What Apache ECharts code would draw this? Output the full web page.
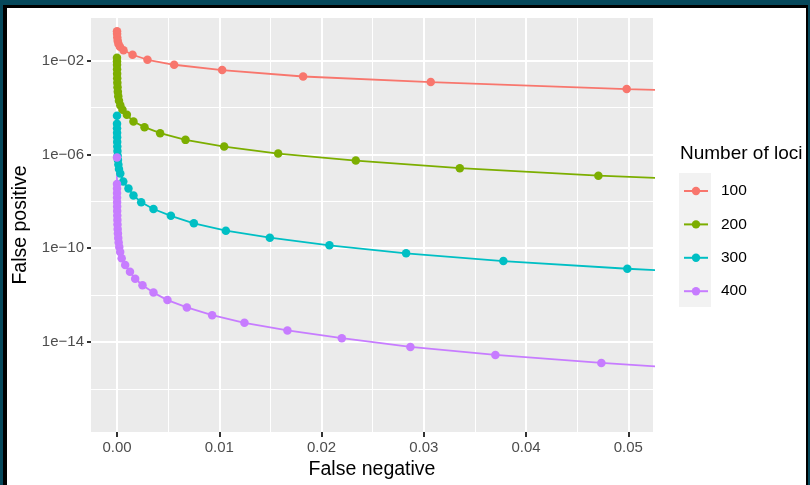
<!DOCTYPE html>
<html><head><meta charset="utf-8">
<script src="https://cdn.jsdelivr.net/npm/echarts@6/dist/echarts.min.js"></script>
<style>html,body{margin:0;padding:0;background:#fff}#c{width:810px;height:485px}</style>
</head><body><div id="c"></div>
<script>
const seriesNames = ['100', '200', '300', '400'];
const seriesColors = ['#F8766D', '#7CAE00', '#00BFC4', '#C77CFF'];

const fn100 = [0.000005, 0.00001, 0.00003, 0.00007, 0.00014, 0.00029, 0.00064, 0.00152, 0.00298, 0.00559, 0.01028, 0.0182, 0.03068, 0.04984, 0.0798];
const fp100 = [0.1823, 0.1425, 0.101, 0.0716, 0.0533, 0.0397, 0.0281, 0.01805, 0.01103, 0.00675, 0.004, 0.002133, 0.001229, 0.000617, 0.000304];

const fn200 = [0.000001, 0.000003, 0.000005, 0.000008, 0.000014, 0.000022, 0.000034, 0.000054, 0.000083, 0.000127, 0.000196, 0.000323, 0.000538, 0.000968, 0.00161, 0.00269, 0.00422, 0.0067, 0.01048, 0.01576, 0.02335, 0.03352, 0.04707, 0.0659];
const fp200 = [1.343e-2, 9.52e-3, 6.75e-3, 4.33e-3, 2.78e-3, 1.787e-3, 1.148e-3, 7.37e-4, 4.73e-4, 3.04e-4, 1.953e-4, 1.254e-4, 8.05e-5, 4.92e-5, 2.547e-5, 1.468e-5, 8.13e-6, 4.21e-6, 2.176e-6, 1.093e-6, 5.49e-7, 2.597e-7, 1.254e-7, 6.11e-8];

const fn300 = [0.000002, 0.000004, 0.000006, 0.00001, 0.000015, 0.000022, 0.000031, 0.000044, 0.000064, 0.000093, 0.000137, 0.000196, 0.000323, 0.000616, 0.001124, 0.001613, 0.002366, 0.003568, 0.005269, 0.007517, 0.010645, 0.014946, 0.020772, 0.02827, 0.03778, 0.0499, 0.0645];
const fp300 = [4.46e-5, 2.03e-5, 1.304e-5, 8.38e-6, 5.38e-6, 3.455e-6, 2.219e-6, 1.425e-6, 9.15e-7, 5.88e-7, 3.775e-7, 2.424e-7, 1.557e-7, 7.09e-8, 3.558e-8, 1.787e-8, 9.24e-9, 4.73e-9, 2.424e-9, 1.159e-9, 5.6e-10, 2.81e-10, 1.33e-10, 6.05e-11, 2.838e-11, 1.33e-11, 6.17e-12];

const fn400 = [0.000001, 0.000002, 0.000004, 0.000006, 0.000009, 0.000012, 0.000016, 0.000022, 0.000029, 0.000039, 0.000051, 0.000068, 0.000093, 0.000122, 0.000166, 0.000225, 0.000313, 0.000459, 0.000802, 0.001271, 0.001779, 0.002493, 0.003568, 0.004936, 0.006833, 0.009306, 0.012463, 0.016667, 0.021984, 0.02869, 0.037, 0.04736, 0.05914];
const fp400 = [7.37e-7, 5.54e-8, 3.558e-8, 2.286e-8, 1.468e-8, 9.43e-9, 6.05e-9, 3.889e-9, 2.497e-9, 1.604e-9, 1.03e-9, 6.61e-10, 4.25e-10, 2.729e-10, 1.752e-10, 1.125e-10, 6.88e-11, 3.7e-11, 1.915e-11, 9.9e-12, 4.97e-12, 2.623e-12, 1.279e-12, 6.11e-13, 2.982e-13, 1.397e-13, 6.55e-14, 3.1e-14, 1.453e-14, 6.17e-15, 2.81e-15, 1.279e-15, 5.93e-16];

const xTicks = [0, 0.01, 0.02, 0.03, 0.04, 0.05];
const xMinorTicks = [0.005, 0.015, 0.025, 0.035, 0.045];
const yTicks = [1e-2, 1e-6, 1e-10, 1e-14];
const yMinorTicks = [1e-4, 1e-8, 1e-12, 1e-16];

const xMin = -0.00254, xMax = 0.05241;
const yMin = 1.44e-18, yMax = 0.668;

const FONT = "'Liberation Sans', Arial, sans-serif";
const allFn = [fn100, fn200, fn300, fn400];
const allFp = [fp100, fp200, fp300, fp400];

function fmtExp(v) {
  const e = Math.round(Math.log10(v));
  return '1e' + (e < 0 ? '\u2212' : '+') + String(Math.abs(e)).padStart(2, '0');
}

const chart = echarts.init(document.getElementById('c'), null, {renderer: 'canvas'});
const option = {
  animation: false,
  backgroundColor: '#ffffff',
  title: {
    text: 'Number of loci', left: 680, top: 144, padding: 0,
    textStyle: {fontSize: 19, fontWeight: 'normal', color: '#000', fontFamily: FONT}
  },
  legend: {
    orient: 'vertical', left: 683, top: 181, padding: 0,
    itemWidth: 24, itemHeight: 10.5, itemGap: 13.4,
    data: seriesNames,
    textStyle: {fontSize: 15.5, color: '#000', fontFamily: FONT, lineHeight: 20, padding: [0, 0, 0, 8]}
  },
  grid: {left: 91, right: 157, top: 18, bottom: 53, show: true, backgroundColor: '#ebebeb', borderWidth: 0},
  xAxis: [{
    type: 'value', min: xMin, max: xMax, position: 'bottom',
    axisLine: {show: false, onZero: false},
    axisTick: {show: true, length: 5, lineStyle: {color: '#333333', width: 2}, customValues: xTicks},
    axisLabel: {customValues: xTicks, formatter: v => v.toFixed(2), color: '#4d4d4d', fontSize: 15, margin: 8, fontFamily: FONT},
    splitLine: {show: true, lineStyle: {color: '#ffffff', width: 2}},
    name: 'False negative', nameLocation: 'middle', nameGap: 27,
    nameTextStyle: {fontSize: 19.5, color: '#000', fontFamily: FONT}
  }, {
    type: 'value', min: xMin, max: xMax, position: 'top',
    axisLine: {show: false, onZero: false},
    axisTick: {show: false, customValues: xMinorTicks},
    axisLabel: {show: false, customValues: xMinorTicks},
    splitLine: {show: true, lineStyle: {color: '#ffffff', width: 1}}
  }],
  yAxis: [{
    type: 'log', logBase: 10, min: yMin, max: yMax, position: 'left',
    axisLine: {show: false, onZero: false},
    axisTick: {show: true, length: 4, lineStyle: {color: '#333333', width: 2}, customValues: yTicks},
    axisLabel: {customValues: yTicks, formatter: fmtExp, color: '#4d4d4d', fontSize: 15, margin: 7, fontFamily: FONT},
    splitLine: {show: true, lineStyle: {color: '#ffffff', width: 2}},
    name: 'False positive', nameLocation: 'middle', nameGap: 54,
    nameTextStyle: {fontSize: 19.5, color: '#000', fontFamily: FONT}
  }, {
    type: 'log', logBase: 10, min: yMin, max: yMax, position: 'right',
    axisLine: {show: false, onZero: false},
    axisTick: {show: false, customValues: yMinorTicks},
    axisLabel: {show: false, customValues: yMinorTicks},
    splitLine: {show: true, lineStyle: {color: '#ffffff', width: 1}}
  }],
  graphic: [
    {type: 'rect', shape: {x: 679, y: 173, width: 32, height: 134}, style: {fill: '#f2f2f2'}, z: 1},
    {type: 'rect', shape: {x: 0, y: 0, width: 810, height: 8}, style: {fill: '#000'}, z: 100},
    {type: 'rect', shape: {x: 0, y: 0, width: 810, height: 5}, style: {fill: '#06485b'}, z: 101},
    {type: 'rect', shape: {x: 0, y: 0, width: 7, height: 485}, style: {fill: '#000'}, z: 100},
    {type: 'rect', shape: {x: 0, y: 0, width: 3, height: 485}, style: {fill: '#06485b'}, z: 101},
    {type: 'rect', shape: {x: 806, y: 0, width: 4, height: 485}, style: {fill: '#000'}, z: 100},
    {type: 'rect', shape: {x: 808, y: 0, width: 2, height: 485}, style: {fill: '#06485b'}, z: 101}
  ],
  series: seriesNames.map((name, i) => ({
    name: name, type: 'line', xAxisIndex: 0, yAxisIndex: 0,
    data: allFn[i].map((x, j) => [x, allFp[i][j]]),
    symbol: 'circle', symbolSize: 8.5, clip: true,
    lineStyle: {color: seriesColors[i], width: 1.8},
    itemStyle: {color: seriesColors[i]},
    emphasis: {disabled: true}
  }))
};
chart.setOption(option);
</script></body></html>
